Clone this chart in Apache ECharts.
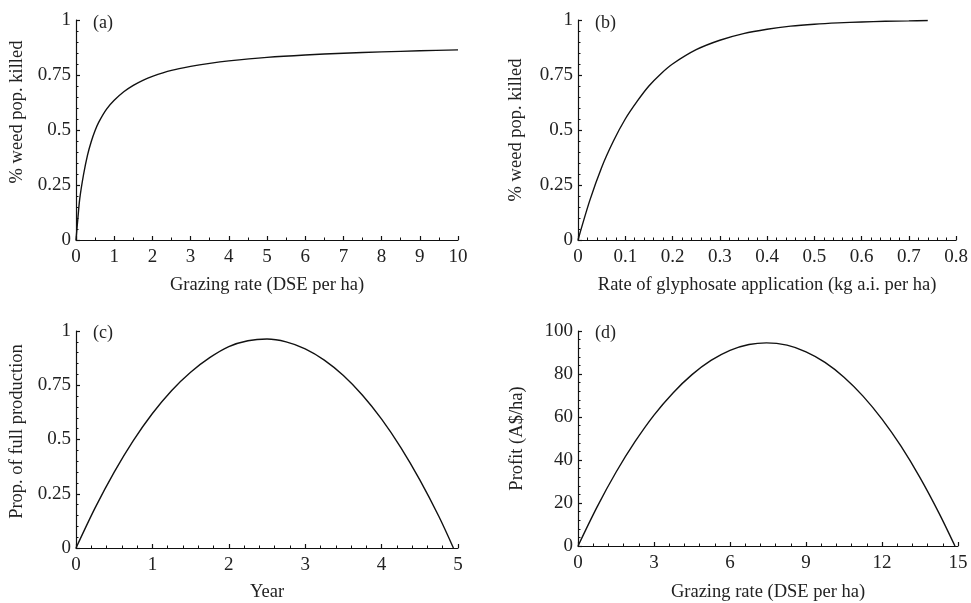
<!DOCTYPE html>
<html>
<head>
<meta charset="utf-8">
<script src="https://cdn.jsdelivr.net/npm/echarts@6/dist/echarts.min.js"></script>
<style>
html,body{margin:0;padding:0;background:#fff;}
#chart{width:971px;height:603px;}
</style>
</head>
<body>
<div id="chart"></div>
<script>
// Panel (a): grazing rate vs % weed pop. killed
var grazeX = [0, 0.05, 0.1, 0.2, 0.3, 0.4, 0.5, 0.6, 0.8, 1, 1.25, 1.5, 1.75, 2, 2.5, 3, 3.5, 4, 5, 6, 7, 8, 9, 10];
var grazeKill = [0, 0.1, 0.19, 0.3, 0.385, 0.448, 0.498, 0.537, 0.595, 0.635, 0.674, 0.703, 0.726, 0.744, 0.771, 0.789, 0.803, 0.814, 0.83, 0.841, 0.849, 0.855, 0.86, 0.864];
// Panel (b): glyphosate rate vs % weed pop. killed
var glyX = [0, 0.025, 0.05, 0.075, 0.1, 0.125, 0.15, 0.175, 0.2, 0.25, 0.3, 0.35, 0.4, 0.45, 0.5, 0.55, 0.6, 0.65, 0.7, 0.74];
var glyKill = [0, 0.18, 0.33, 0.45, 0.55, 0.63, 0.7, 0.755, 0.8, 0.865, 0.908, 0.938, 0.958, 0.972, 0.981, 0.987, 0.991, 0.994, 0.996, 0.998];
// Panel (c): year vs prop. of full production
var yearX = [0, 0.25, 0.5, 0.75, 1, 1.25, 1.5, 1.75, 2, 2.25, 2.5, 2.75, 3, 3.25, 3.5, 3.75, 4, 4.25, 4.5, 4.75, 4.94];
var prodY = [0, 0.185, 0.35, 0.495, 0.62, 0.725, 0.81, 0.877, 0.928, 0.955, 0.963, 0.95, 0.918, 0.866, 0.795, 0.704, 0.594, 0.464, 0.314, 0.145, 0];
// Panel (d): grazing rate vs profit
var profitX = [0, 0.75, 1.5, 2.25, 3, 3.75, 4.5, 5.25, 6, 6.75, 7.44, 8.25, 9, 9.75, 10.5, 11.25, 12, 12.75, 13.5, 14.25, 14.88];
var profitY = [0, 18.1, 34.3, 48.5, 60.9, 71.2, 79.7, 86.3, 91, 93.7, 94.5, 93.4, 90.3, 85.4, 78.5, 69.7, 59, 46.4, 31.8, 15.3, 0];

var panelLabels = ['(a)', '(b)', '(c)', '(d)'];
var xNames = ['Grazing rate (DSE per ha)', 'Rate of glyphosate application (kg a.i. per ha)', 'Year', 'Grazing rate (DSE per ha)'];
var yNames = ['% weed pop. killed', '% weed pop. killed', 'Prop. of full production', 'Profit (A$/ha)'];

var FONT = 'Liberation Serif';
var TXT = '#222';

function pairs(xs, ys) { return xs.map(function (x, i) { return [x, ys[i]]; }); }

var grids = [
  { left: 76, top: 20, width: 382, height: 220 },
  { left: 578, top: 20, width: 381, height: 220 },
  { left: 76, top: 331, width: 382, height: 218 },
  { left: 578, top: 331, width: 380, height: 218 }
];

var xSpec = [
  { min: 0, max: 10, interval: 1, minor: 2 },
  { min: 0, max: 0.8, interval: 0.1, minor: 5 },
  { min: 0, max: 5, interval: 1, minor: 5 },
  { min: 0, max: 15, interval: 3, minor: 5 }
];
var ySpec = [
  { min: 0, max: 1, interval: 0.25, minor: 5 },
  { min: 0, max: 1, interval: 0.25, minor: 5 },
  { min: 0, max: 1, interval: 0.25, minor: 5 },
  { min: 0, max: 100, interval: 20, minor: 5 }
];
var yGaps = [49, 52, 49, 51];
var xGaps = [36, 36, 35, 37];
var yNamePad = [[0, 0, 0, 36], [0, 0, 0, 0], [0, 0, 0, 16], [0, 0, 0, 0]];

function axisCommon() {
  return {
    axisLine: { show: true, lineStyle: { color: '#111', width: 1.2 } },
    axisTick: { show: true, inside: true, length: 4, lineStyle: { color: '#111', width: 1.2 } },
    minorTick: { show: true, length: 2.5, lineStyle: { color: '#111', width: 1 } },
    splitLine: { show: false },
    minorSplitLine: { show: false },
    nameTextStyle: { fontFamily: FONT, fontSize: 18.5, color: TXT },
    axisLabel: { fontFamily: FONT, fontSize: 19, color: TXT }
  };
}

var xAxes = xSpec.map(function (s, i) {
  var a = axisCommon();
  a.type = 'value'; a.gridIndex = i; a.min = s.min; a.max = s.max; a.interval = s.interval;
  a.minorTick.splitNumber = s.minor;
  a.name = xNames[i]; a.nameLocation = 'middle'; a.nameGap = xGaps[i];
  a.axisLabel.margin = 8;
  return a;
});
var yAxes = ySpec.map(function (s, i) {
  var a = axisCommon();
  a.type = 'value'; a.gridIndex = i; a.min = s.min; a.max = s.max; a.interval = s.interval;
  a.minorTick.splitNumber = s.minor;
  a.name = yNames[i]; a.nameLocation = 'middle'; a.nameGap = yGaps[i];
  a.nameTextStyle.padding = yNamePad[i];
  a.axisLabel.margin = 5;
  return a;
});

var datasets = [pairs(grazeX, grazeKill), pairs(glyX, glyKill), pairs(yearX, prodY), pairs(profitX, profitY)];
var series = datasets.map(function (d, i) {
  return {
    type: 'line', xAxisIndex: i, yAxisIndex: i, data: d,
    showSymbol: false, smooth: 0.3, silent: true, animation: false,
    lineStyle: { color: '#111', width: 1.4 }
  };
});

var labelPos = [[93, 14], [595, 14], [93, 324], [595, 324]];
var graphic = panelLabels.map(function (t, i) {
  return { type: 'text', left: labelPos[i][0], top: labelPos[i][1],
    style: { text: t, font: '18px "' + FONT + '"', fill: TXT } };
});

var chart = echarts.init(document.getElementById('chart'), null, { renderer: 'canvas' });
chart.setOption({
  animation: false,
  backgroundColor: '#fff',
  grid: grids,
  xAxis: xAxes,
  yAxis: yAxes,
  series: series,
  graphic: graphic
});
</script>
</body>
</html>
